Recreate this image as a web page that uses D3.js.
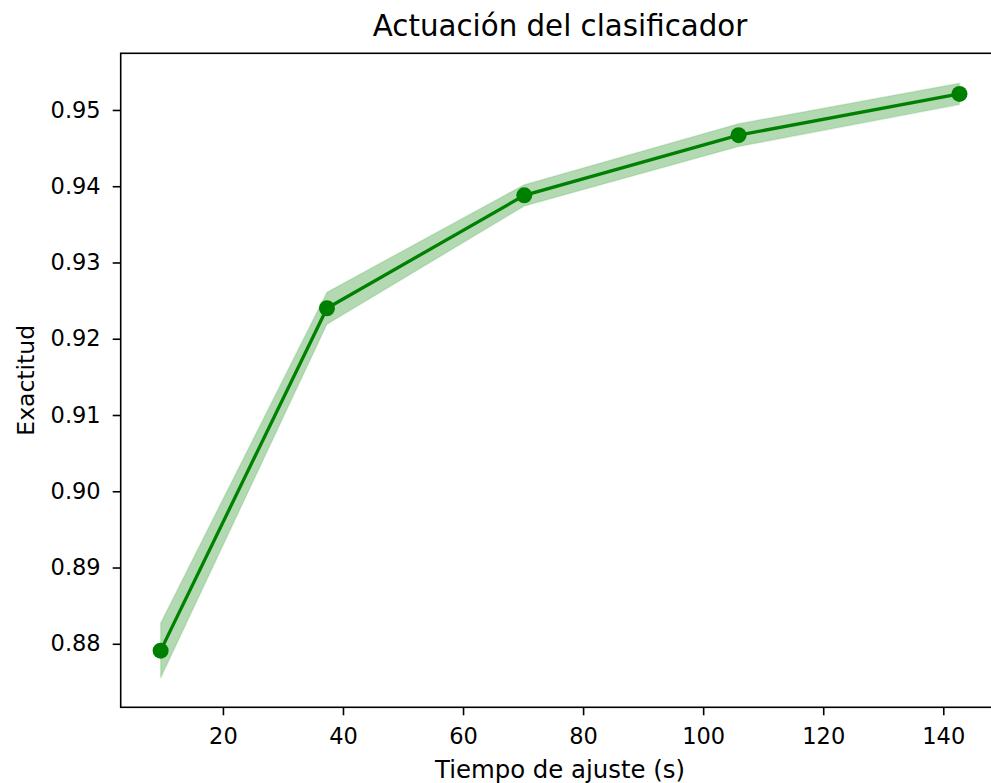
<!DOCTYPE html>
<html>
<head>
<meta charset="utf-8">
<script src="https://cdn.jsdelivr.net/npm/d3@7"></script>
<style>
  html, body { margin: 0; padding: 0; background: #fff; }
  svg { display: block; font-family: "DejaVu Sans", sans-serif; }
</style>
</head>
<body>
<script>
// Data
const fitTimes = [9.62, 37.33, 70.2, 105.9, 142.7];
const accuracy = [0.8791, 0.9240, 0.9388, 0.9467, 0.9521];
const accuracyStd = [0.0036, 0.0021, 0.0014, 0.0015, 0.0014];
const xTicks = [20, 40, 60, 80, 100, 120, 140];
const yTicks = [0.88, 0.89, 0.90, 0.91, 0.92, 0.93, 0.94, 0.95];
const titleText = "Actuación del clasificador";
const xLabel = "Tiempo de ajuste (s)";
const yLabel = "Exactitud";

const W = 991, H = 783;
const mLeft = 120.7, mTop = 53.3, mRight = 999.4, mBottom = 707.3;

const svg = d3.select("body").append("svg").attr("width", W).attr("height", H);

const x = d3.scaleLinear().domain([2.97, 149.35]).range([mLeft, mRight]);
const y = d3.scaleLinear().domain([0.87167, 0.95743]).range([mBottom, mTop]);

const pts = fitTimes.map((t, i) => ({ t, a: accuracy[i], s: accuracyStd[i] }));

// band
svg.append("path")
  .datum(pts)
  .attr("d", d3.area().x(d => x(d.t)).y0(d => y(d.a - d.s)).y1(d => y(d.a + d.s)))
  .attr("fill", "rgb(0,128,0)")
  .attr("fill-opacity", 0.3)
  .attr("stroke", "rgb(0,128,0)")
  .attr("stroke-opacity", 0.12)
  .attr("stroke-width", 1.5);

// line
svg.append("path")
  .datum(pts)
  .attr("d", d3.line().x(d => x(d.t)).y(d => y(d.a)))
  .attr("fill", "none")
  .attr("stroke", "#008000")
  .attr("stroke-width", 3.3);

// markers
svg.selectAll("circle.pt").data(pts).enter().append("circle")
  .attr("class", "pt")
  .attr("cx", d => x(d.t)).attr("cy", d => y(d.a)).attr("r", 8)
  .attr("fill", "#008000");

// axes
const xAxis = svg.append("g").attr("transform", `translate(0,${mBottom})`)
  .call(d3.axisBottom(x).tickValues(xTicks).tickSize(8).tickPadding(12.5).tickFormat(d3.format("d")));
const yAxis = svg.append("g").attr("transform", `translate(${mLeft},0)`)
  .call(d3.axisLeft(y).tickValues(yTicks).tickSize(8).tickPadding(12).tickFormat(d3.format(".2f")));

[xAxis, yAxis].forEach(g => {
  g.select(".domain").remove();
  g.selectAll(".tick line").attr("stroke", "#000").attr("stroke-width", 1.6);
  g.selectAll(".tick text").attr("fill", "#000").style("font-size", "22.5px")
    .style("font-family", "'DejaVu Sans', sans-serif");
});

// frame
svg.append("rect")
  .attr("x", mLeft).attr("y", mTop)
  .attr("width", mRight - mLeft).attr("height", mBottom - mTop)
  .attr("fill", "none").attr("stroke", "#000").attr("stroke-width", 1.6);

// title and labels
svg.append("text")
  .attr("x", (mLeft + mRight) / 2).attr("y", 36)
  .attr("text-anchor", "middle")
  .style("font-size", "29.3px")
  .attr("fill", "#000")
  .text(titleText);

svg.append("text")
  .attr("x", (mLeft + mRight) / 2).attr("y", 778)
  .attr("text-anchor", "middle")
  .style("font-size", "24.4px")
  .attr("fill", "#000")
  .text(xLabel);

svg.append("text")
  .attr("transform", `translate(33.5,${(mTop + mBottom) / 2}) rotate(-90)`)
  .attr("text-anchor", "middle")
  .style("font-size", "23.5px")
  .attr("fill", "#000")
  .text(yLabel);
</script>
</body>
</html>
